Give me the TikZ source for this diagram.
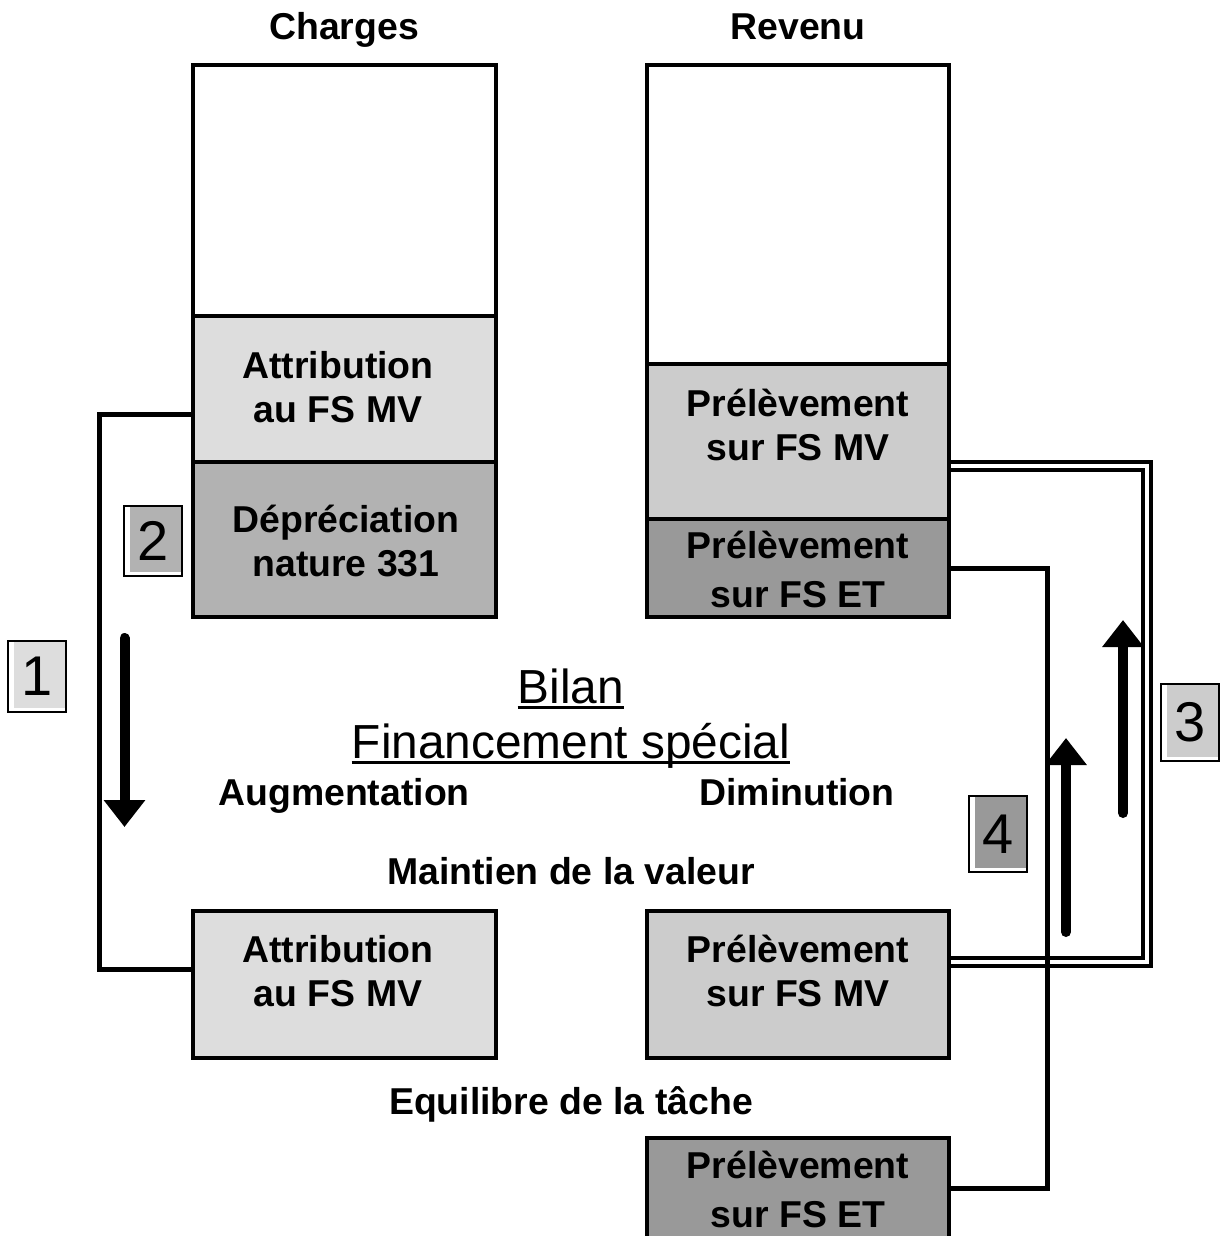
\documentclass[tikz,border=0pt]{standalone}
\usepackage{fontspec}
\setmainfont{Liberation Sans}
\usetikzlibrary{arrows.meta}
\definecolor{paleA}{HTML}{DDDDDD}
\definecolor{paleB}{HTML}{CCCCCC}
\definecolor{darkA}{HTML}{B2B2B2}
\definecolor{darkB}{HTML}{999999}
\begin{document}
\begin{tikzpicture}[x=1pt,y=-1pt,
  cell/.style={draw, line width=4pt, minimum width=303pt, inner sep=0pt},
  lbl/.style={font=\fontsize{37.4}{44}\selectfont\bfseries, align=center, inner sep=0pt},
  lblwide/.style={font=\fontsize{37.4}{49}\selectfont\bfseries, align=center, inner sep=0pt},
  head/.style={font=\fontsize{37.4}{44}\selectfont\bfseries, inner sep=0pt, anchor=base},
  title/.style={font=\fontsize{47.8}{56}\selectfont, inner sep=0pt, anchor=base},
  link/.style={line width=5pt},
  flow/.style={line width=10pt, line cap=round, -{Triangle[width=40pt,length=27pt]}},
  numbox/.style={draw, line width=2pt, fill=white, minimum width=58pt, inner sep=0pt,
    font=\fontsize{56}{56}\selectfont,
    path picture={\fill[#1] ([xshift=6pt,yshift=4.5pt]path picture bounding box.south west)
      rectangle (path picture bounding box.north east);}},
]
\clip (0,0) rectangle (1220,1236);
\fill[white] (0,0) rectangle (1220,1236);

% column headings
\node[head] (hch) at (344,40) {Charges};
\node[head] (hrv) at (798,40) {Revenu};

% charges column
\node[cell, fill=white, minimum height=250.5pt] (ctop) at (344.5,190.25) {};
\node[cell, fill=paleA, minimum height=146.5pt] (ctl) at (344.5,388.75) {};
\node[cell, fill=darkA, minimum height=155pt] (ctd) at (344.5,539.5) {};
\node[lbl] (tctl) at (338,387) {Attribution\\au FS MV};
\node[lbl] (tctd) at (346,541) {Dépréciation\\nature 331};

% revenue column
\node[cell, fill=white, minimum width=302pt, minimum height=299pt] (rtop) at (798,214.5) {};
\node[cell, fill=paleB, minimum width=302pt, minimum height=155pt] (rlight) at (798,441.5) {};
\node[cell, fill=darkB, minimum width=302pt, minimum height=98pt] (rdark) at (798,568) {};
\node[lbl] (trl) at (798,424.5) {Prélèvement\\sur FS MV};
\node[lblwide] (trd) at (798,569.5) {Prélèvement\\sur FS ET};

% balance sheet
\node[title] (bilan) at (571,703) {Bilan};
\node[title] (fin) at (571,758) {Financement spécial};
\draw[line width=3pt] ([yshift=-4.5pt]bilan.base west) -- ([yshift=-4.5pt]bilan.base east);
\draw[line width=3pt] ([yshift=-4.5pt]fin.base west) -- ([yshift=-4.5pt]fin.base east);
\node[head] (aug) at (344,805) {Augmentation};
\node[head] (dim) at (797,805) {Diminution};
\node[head] (mv) at (571,884) {Maintien de la valeur};
\node[head] (eq) at (571,1114) {Equilibre de la tâche};

\node[cell, fill=paleA, minimum height=147pt] (bl) at (344.5,984.5) {};
\node[cell, fill=paleB, minimum width=302pt, minimum height=147pt] (brt) at (798,984.5) {};
\node[cell, fill=darkB, minimum width=302pt, minimum height=162pt] (bot) at (798,1219) {};
\node[lbl] (tbl) at (338,971) {Attribution\\au FS MV};
\node[lbl] (tbrt) at (798,971) {Prélèvement\\sur FS MV};
\node[lblwide] (tbot) at (798,1189) {Prélèvement\\sur FS ET};

% connectors
\draw[link] (ctl.west |- 0,414) -- (99,414) -- (99,969) -- (bl.west |- 0,969);
\draw[line width=4pt, double, double distance=4pt] (rlight.east |- 0,466) -- (1147,466)
  -- (1147,962) -- (brt.east |- 0,962);
\draw[link] (rdark.east) -- (1047,568) -- (1047,1188) -- (bot.east |- 0,1188);

% movement arrows
\coordinate (a1s) at (124.5,638);
\coordinate (a1e) at (124.5,827);
\coordinate (a3s) at (1123,813);
\coordinate (a3e) at (1123,620);
\coordinate (a4s) at (1066,932);
\coordinate (a4e) at (1066,738);
\draw[flow] (a1s) -- (a1e);
\draw[flow] (a3s) -- (a3e);
\draw[flow] (a4s) -- (a4e);

% step numbers
\node[numbox=paleA, minimum height=71pt] (n1) at (37,676.5) {1};
\node[numbox=darkA, minimum height=70pt] (n2) at (153,541) {2};
\node[numbox=paleB, minimum height=77pt] (n3) at (1190,722.5) {3};
\node[numbox=darkB, minimum height=76pt] (n4) at (998,834) {4};
\end{tikzpicture}
\end{document}
